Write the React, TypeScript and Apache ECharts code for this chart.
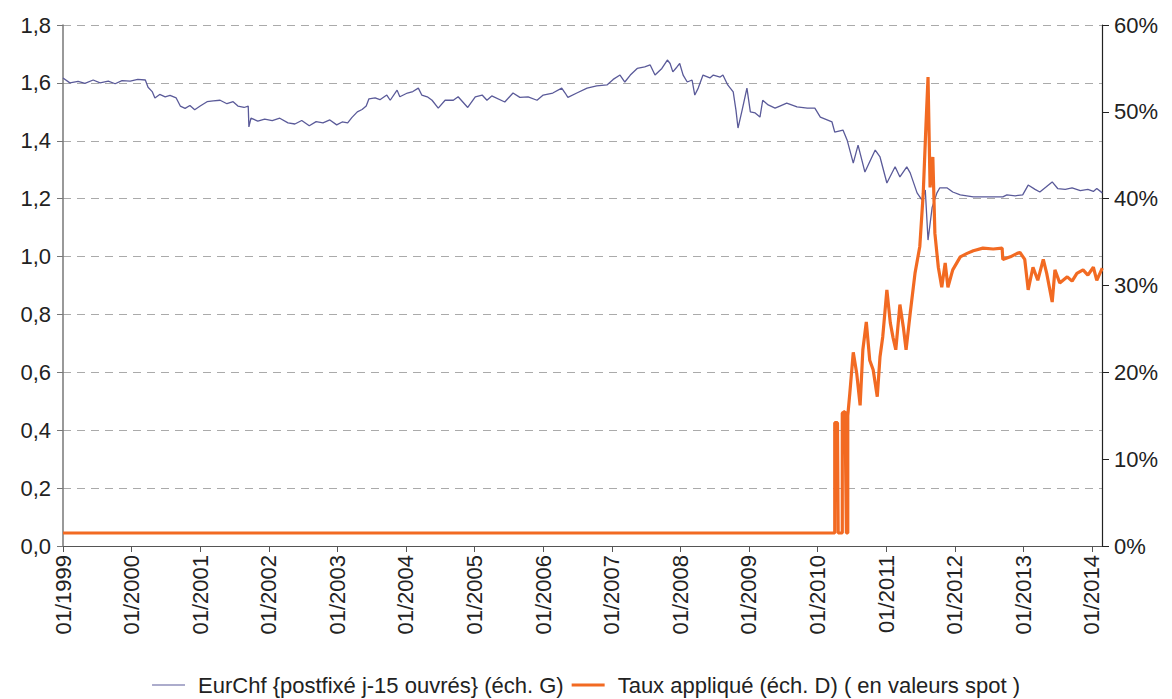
import React, { useEffect, useRef } from "react";
import * as echarts from "echarts";

// x values are decimal years
const yearTicks = [1999, 2000, 2001, 2002, 2003, 2004, 2005, 2006, 2007, 2008, 2009, 2010, 2011, 2012, 2013, 2014];

const eurChf: [number, number][] = [
  [1999.0, 1.617], [1999.1, 1.6], [1999.22, 1.605], [1999.32, 1.598], [1999.44, 1.61], [1999.54, 1.6],
  [1999.66, 1.606], [1999.76, 1.597], [1999.86, 1.608], [1999.98, 1.606], [2000.09, 1.612], [2000.2, 1.61],
  [2000.24, 1.585], [2000.3, 1.57], [2000.34, 1.548], [2000.41, 1.56], [2000.49, 1.552], [2000.56, 1.557],
  [2000.65, 1.548], [2000.71, 1.52], [2000.78, 1.512], [2000.85, 1.522], [2000.92, 1.507], [2001.0, 1.52],
  [2001.1, 1.535], [2001.19, 1.538], [2001.29, 1.54], [2001.39, 1.528], [2001.48, 1.535], [2001.55, 1.52],
  [2001.64, 1.515], [2001.7, 1.52], [2001.71, 1.448], [2001.74, 1.478], [2001.84, 1.468], [2001.94, 1.475],
  [2002.05, 1.47], [2002.16, 1.478], [2002.28, 1.462], [2002.38, 1.458], [2002.48, 1.47], [2002.59, 1.452],
  [2002.69, 1.466], [2002.79, 1.462], [2002.89, 1.472], [2002.99, 1.455], [2003.07, 1.465], [2003.15, 1.462],
  [2003.21, 1.48], [2003.29, 1.5], [2003.36, 1.508], [2003.42, 1.52], [2003.46, 1.545], [2003.55, 1.548],
  [2003.62, 1.542], [2003.72, 1.558], [2003.77, 1.54], [2003.87, 1.575], [2003.91, 1.552], [2004.02, 1.565],
  [2004.1, 1.57], [2004.18, 1.582], [2004.23, 1.558], [2004.31, 1.552], [2004.38, 1.54], [2004.47, 1.513],
  [2004.57, 1.54], [2004.69, 1.54], [2004.76, 1.552], [2004.9, 1.515], [2005.01, 1.552], [2005.11, 1.558],
  [2005.18, 1.54], [2005.25, 1.555], [2005.44, 1.534], [2005.56, 1.565], [2005.66, 1.55], [2005.78, 1.552],
  [2005.91, 1.54], [2006.0, 1.558], [2006.14, 1.565], [2006.27, 1.582], [2006.32, 1.565], [2006.36, 1.55],
  [2006.49, 1.565], [2006.64, 1.582], [2006.78, 1.59], [2006.93, 1.593], [2007.02, 1.612], [2007.12, 1.627],
  [2007.19, 1.603], [2007.27, 1.627], [2007.37, 1.65], [2007.48, 1.655], [2007.56, 1.662], [2007.63, 1.627],
  [2007.73, 1.65], [2007.81, 1.679], [2007.85, 1.667], [2007.89, 1.638], [2007.95, 1.655], [2007.99, 1.667],
  [2008.04, 1.627], [2008.1, 1.603], [2008.17, 1.61], [2008.21, 1.558], [2008.26, 1.582], [2008.33, 1.627],
  [2008.43, 1.617], [2008.48, 1.627], [2008.58, 1.62], [2008.62, 1.627], [2008.69, 1.593], [2008.77, 1.569],
  [2008.81, 1.506], [2008.84, 1.444], [2008.9, 1.506], [2008.97, 1.582], [2009.02, 1.5], [2009.09, 1.496],
  [2009.16, 1.482], [2009.2, 1.54], [2009.28, 1.524], [2009.38, 1.513], [2009.45, 1.52], [2009.55, 1.53],
  [2009.7, 1.517], [2009.85, 1.513], [2009.96, 1.513], [2010.04, 1.482], [2010.21, 1.465], [2010.25, 1.43],
  [2010.37, 1.437], [2010.43, 1.403], [2010.52, 1.323], [2010.59, 1.385], [2010.69, 1.292], [2010.84, 1.368],
  [2010.91, 1.344], [2011.01, 1.254], [2011.13, 1.31], [2011.2, 1.275], [2011.3, 1.31], [2011.35, 1.289],
  [2011.45, 1.22], [2011.52, 1.196], [2011.57, 1.23], [2011.61, 1.057], [2011.67, 1.17], [2011.74, 1.22],
  [2011.78, 1.237], [2011.89, 1.237], [2011.97, 1.223], [2012.08, 1.213], [2012.27, 1.206], [2012.48, 1.206],
  [2012.7, 1.206], [2012.76, 1.213], [2012.88, 1.21], [2012.99, 1.213], [2013.07, 1.247], [2013.17, 1.232],
  [2013.24, 1.223], [2013.33, 1.24], [2013.42, 1.258], [2013.5, 1.235], [2013.61, 1.232], [2013.71, 1.237],
  [2013.83, 1.228], [2013.94, 1.232], [2014.02, 1.225], [2014.07, 1.235], [2014.15, 1.22],
];

const tauxApplique: [number, number][] = [
  [1999.0, 1.5], [2010.25, 1.5], [2010.25, 14.2], [2010.29, 14.2], [2010.3, 1.5], [2010.36, 1.5],
  [2010.36, 15.3], [2010.4, 15.5], [2010.42, 1.5], [2010.44, 1.5], [2010.44, 15.0], [2010.47, 17.6],
  [2010.52, 22.3], [2010.57, 19.9], [2010.62, 16.2], [2010.66, 22.6], [2010.71, 25.8], [2010.76, 21.4],
  [2010.81, 20.3], [2010.87, 17.2], [2010.91, 21.8], [2010.95, 24.1], [2011.01, 29.5], [2011.06, 25.7],
  [2011.1, 24.0], [2011.14, 22.6], [2011.2, 27.8], [2011.25, 25.2], [2011.29, 22.6], [2011.35, 26.8],
  [2011.42, 31.4], [2011.49, 34.5], [2011.54, 40.6], [2011.58, 48.5], [2011.61, 54.0], [2011.64, 41.3],
  [2011.68, 44.8], [2011.71, 36.0], [2011.76, 32.1], [2011.81, 29.8], [2011.86, 32.6], [2011.9, 29.8],
  [2011.97, 31.8], [2012.08, 33.3], [2012.18, 33.7], [2012.27, 34.0], [2012.41, 34.3], [2012.56, 34.2],
  [2012.69, 34.3], [2012.7, 33.0], [2012.81, 33.3], [2012.91, 33.7], [2012.95, 33.8], [2013.02, 33.0],
  [2013.07, 29.5], [2013.14, 32.1], [2013.21, 30.6], [2013.29, 33.0], [2013.34, 31.4], [2013.42, 28.1],
  [2013.46, 31.8], [2013.53, 30.3], [2013.64, 31.0], [2013.71, 30.5], [2013.78, 31.4], [2013.87, 31.8],
  [2013.94, 31.2], [2014.02, 32.1], [2014.07, 30.6], [2014.15, 32.0],
];

const FONT = "'Liberation Sans', Arial, sans-serif";
const BLUE = "#5a5a99";
const ORANGE = "#f26a22";

export default function App() {
  const ref = useRef<HTMLDivElement>(null);
  useEffect(() => {
    document.body.style.margin = "0";
    if (!ref.current) return;
    const chart = echarts.init(ref.current, undefined, { renderer: "svg" });
    chart.setOption({
      animation: false,
      textStyle: { fontFamily: FONT },
      grid: { left: 63, right: 70, top: 25, bottom: 153, containLabel: false },
      legend: {
        top: 674,
        left: "center",
        padding: 0,
        itemWidth: 33,
        itemHeight: 14,
        itemGap: 8,
        textStyle: { fontSize: 22, lineHeight: 22, color: "#222", fontFamily: FONT, padding: [0, 0, 0, 8] },
        data: [
          { name: "EurChf {postfixé j-15 ouvrés} (éch. G)", icon: "path://M0 0H40V1.1H0Z", itemStyle: { color: BLUE } },
          { name: "Taux appliqué (éch. D) ( en valeurs spot )", icon: "path://M0 0H40V3.4H0Z", itemStyle: { color: ORANGE } },
        ],
      },
      xAxis: {
        type: "value",
        min: yearTicks[0],
        max: 2014.146,
        interval: 1,
        axisLine: { show: true, lineStyle: { color: "#555", width: 1 } },
        axisTick: { show: true, length: 6, lineStyle: { color: "#555" } },
        splitLine: { show: false },
        axisLabel: {
          rotate: 90,
          fontSize: 22,
          color: "#222",
          margin: 9,
          fontFamily: FONT,
          showMaxLabel: false,
          formatter: (v: number) => (yearTicks.includes(Math.round(v * 1000) / 1000) ? "01/" + v : ""),
        },
      },
      yAxis: [
        {
          type: "value",
          min: 0,
          max: 1.8,
          interval: 0.2,
          position: "left",
          axisLine: { show: true, lineStyle: { color: "#777", width: 1.5 } },
          axisTick: { show: true, length: 6, lineStyle: { color: "#777" } },
          splitLine: { show: true, lineStyle: { color: "#aaa", type: [8, 6], width: 1 } },
          axisLabel: {
            fontSize: 22,
            color: "#222",
            margin: 12,
            fontFamily: FONT,
            formatter: (v: number) => v.toFixed(1).replace(".", ","),
          },
        },
        {
          type: "value",
          min: 0,
          max: 60,
          interval: 10,
          position: "right",
          axisLine: { show: true, lineStyle: { color: "#222", width: 1.2 } },
          axisTick: { show: true, length: 7, lineStyle: { color: "#222" } },
          splitLine: { show: false },
          axisLabel: {
            fontSize: 22,
            color: "#222",
            margin: 12,
            fontFamily: FONT,
            formatter: (v: number) => v + "%",
          },
        },
      ],
      series: [
        {
          name: "EurChf {postfixé j-15 ouvrés} (éch. G)",
          type: "line",
          yAxisIndex: 0,
          data: eurChf,
          symbol: "none",
          lineStyle: { color: BLUE, width: 1.3 },
          itemStyle: { color: BLUE },
          z: 3,
        },
        {
          name: "Taux appliqué (éch. D) ( en valeurs spot )",
          type: "line",
          yAxisIndex: 1,
          data: tauxApplique,
          symbol: "none",
          lineStyle: { color: ORANGE, width: 3.2 },
          itemStyle: { color: ORANGE },
          z: 4,
        },
      ],
    });
    return () => chart.dispose();
  }, []);
  return <div ref={ref} style={{ width: 1172, height: 699 }} />;
}
